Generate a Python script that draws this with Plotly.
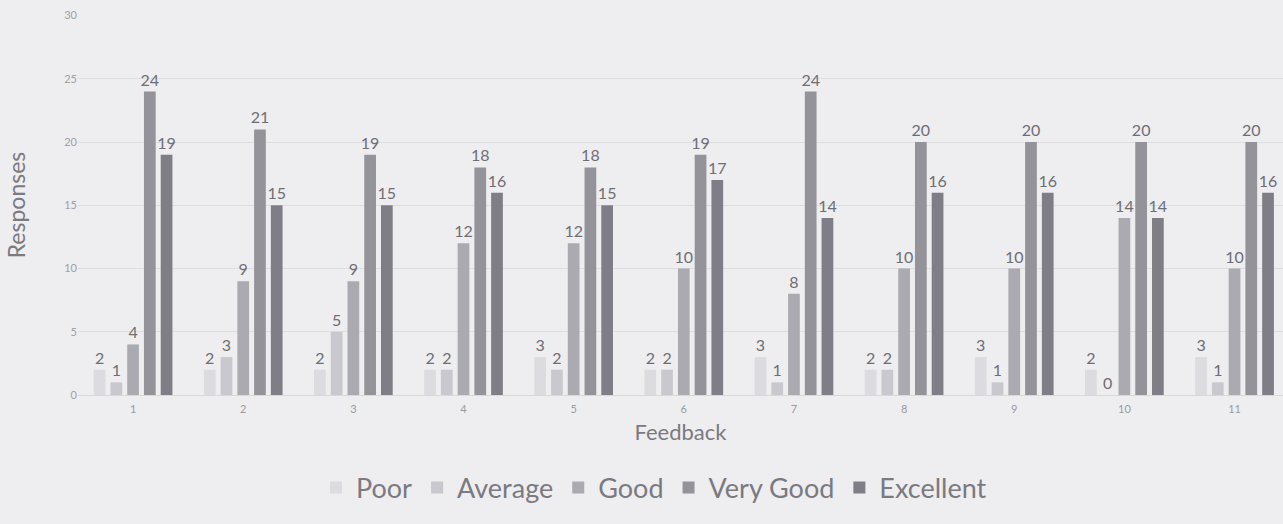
import plotly.graph_objects as go

categories = ["1", "2", "3", "4", "5", "6", "7", "8", "9", "10", "11"]
poor = [2, 2, 2, 2, 3, 2, 3, 2, 3, 2, 3]
average = [1, 3, 5, 2, 2, 2, 1, 2, 1, 0, 1]
good = [4, 9, 9, 12, 12, 10, 8, 10, 10, 14, 10]
very_good = [24, 21, 19, 18, 18, 19, 24, 20, 20, 20, 20]
excellent = [19, 15, 15, 16, 15, 17, 14, 16, 16, 14, 16]

series = [
    ("Poor", poor, "#dcdbe0"),
    ("Average", average, "#c9c8ce"),
    ("Good", good, "#abaab1"),
    ("Very Good", very_good, "#94939a"),
    ("Excellent", excellent, "#7f7e86"),
]

fig = go.Figure()
for name, vals, col in series:
    fig.add_trace(go.Bar(
        x=categories, y=vals, name=name,
        marker=dict(color=col, line=dict(width=0)),
        text=[str(v) for v in vals], textposition="outside",
        constraintext="none",
        textfont=dict(family="Lato, Open Sans, sans-serif", size=16, color="#6e6e74"),
        cliponaxis=False,
    ))

fig.update_layout(
    width=1283, height=524,
    barmode="group", bargap=0.24, bargroupgap=0.3,
    paper_bgcolor="#eeedf0", plot_bgcolor="#eeedf0",
    margin=dict(l=78, r=0, t=15, b=129),
    font=dict(family="Lato, Open Sans, sans-serif", color="#808086"),
    xaxis=dict(
        title=dict(text="Feedback", font=dict(size=22, color="#7a7a80"), standoff=10),
        tickfont=dict(size=11, color="#9a9aa0"),
        showgrid=False, showline=True, linecolor="#d8d8dc", ticks="",
        ticklabelstandoff=4, range=[-0.5, 10.44],
    ),
    yaxis=dict(
        title=dict(text="Responses", font=dict(size=23, color="#7a7a80"), standoff=32),
        range=[0, 30.05], tickvals=[0, 5, 10, 15, 20, 25, 30],
        tickfont=dict(size=11, color="#a0a0a6"),
        showgrid=True, gridcolor="#dddde1", zeroline=False,
    ),
    legend=dict(
        orientation="h", x=0.478, xanchor="center", y=-0.18, yanchor="top",
        font=dict(size=27, color="#7a7a80"), itemwidth=30, traceorder="normal",
    ),
)

fig.write_html(
    "out.html",
    config={"displayModeBar": False},
    post_script="document.body.style.margin='0';document.body.style.background='#eeedf0';",
)
